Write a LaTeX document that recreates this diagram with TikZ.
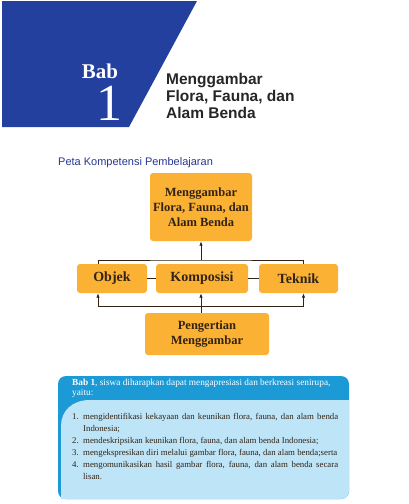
\documentclass[tikz,border=0pt]{standalone}
\usepackage{fontspec}
\setmainfont{Liberation Serif}
\newfontfamily\judulfont{Liberation Sans}
\usetikzlibrary{arrows.meta,positioning,calc}

\definecolor{babblue}{RGB}{35,64,158}
\definecolor{petablue}{RGB}{40,55,145}
\definecolor{kotak}{RGB}{251,178,52}
\definecolor{panelcyan}{RGB}{28,154,214}
\definecolor{panellight}{RGB}{190,228,247}
\definecolor{teks}{RGB}{50,35,20}

\newcommand{\nomorbutir}[1]{\leavevmode\llap{\hbox to 11pt{#1\hfil}}}

\begin{document}
\begin{tikzpicture}[x=1pt, y=-1pt, >=Latex,
  every node/.style={inner sep=0pt}]

  % ===== Styles =====
  \tikzset{
    box/.style={fill=kotak, rounded corners=3pt, align=center, text=teks,
      font=\fontsize{12.5}{15}\selectfont\bfseries},
    midbox/.style={box, minimum height=29pt, font=\fontsize{14}{16}\selectfont\bfseries},
    conn/.style={draw=teks, line width=0.8pt},
    arrow/.style={conn, -{Latex[length=4.5pt,width=3.5pt]}},
    paneltext/.style={text=teks, font=\fontsize{8.8}{12}\selectfont}
  }

  \useasboundingbox[fill=white] (0,0) rectangle (409,504);

  % ===== Chapter header =====
  \fill[babblue] (2,1) -- (197,1) -- (129,127) -- (2,127) -- cycle;
  \node[anchor=base, text=white, font=\fontsize{21}{21}\selectfont\bfseries] (bab) at (100,78) {Bab};
  \node[anchor=base, text=white, text height=35pt, font=\fontsize{52}{52}\selectfont] (nomor) at (109,120) {1};
  % base of a multi-line node = last line
  \node[anchor=base west, align=left, text=black!85,
    font=\judulfont\fontsize{15.5}{17}\selectfont\bfseries] (judulbab) at (166,118)
    {Menggambar\\Flora, Fauna, dan\\Alam Benda};

  \node[anchor=base west, text=petablue, font=\judulfont\fontsize{11}{13}\selectfont] (peta) at (58,165)
    {Peta Kompetensi Pembelajaran};

  % ===== Concept map =====
  \node[box, minimum width=102pt, minimum height=68pt] (judul) at (201,207)
    {Menggambar\\Flora, Fauna, dan\\Alam Benda};
  \node[midbox, minimum width=70pt] (objek) at (112,278.5) {Objek};
  \node[midbox, minimum width=92pt] (komposisi) at (202,278.5) {Komposisi};
  \node[midbox, minimum width=79pt] (teknik) at (298.5,278.5) {Teknik};
  \node[box, minimum width=124pt, minimum height=42pt] (pengertian) at (207,334)
    {Pengertian\\Menggambar};

  \coordinate (topbus) at (201,260);
  \coordinate (botbus) at (201,306);

  \draw[conn] ([xshift=-14pt]objek.north) |- (topbus) -| ([xshift=5pt]teknik.north);
  \draw[arrow] (topbus) -- (judul.south -| topbus);
  \draw[conn] (objek) -- (komposisi);
  \draw[conn] (komposisi) -- (teknik);
  \draw[arrow] (pengertian.north -| botbus) -- (komposisi.south -| botbus);
  \draw[arrow] (botbus) -| ([xshift=-14pt]objek.south);
  \draw[arrow] (botbus) -| ([xshift=5pt]teknik.south);

  % ===== Competence panel =====
  \fill[panelcyan, rounded corners=8pt] (58,376) rectangle (349,499);
  \fill[panellight] (61,499) -- (61,426) .. controls (61,411) and (72,400) .. (90,400)
    -- (349,400) -- (349,491) .. controls (349,495.4) and (345.4,499) .. (341,499) -- cycle;

  \node[anchor=base west, align=left, text=white, font=\fontsize{9.3}{10}\selectfont] (tujuan) at (72,395)
    {\textbf{Bab 1}, siswa diharapkan dapat mengapresiasi dan berkreasi senirupa,\\yaitu:};

  \node[paneltext, anchor=north west, text width=266pt, align=justify] (daftar) at (72,413.5)
    {\hyphenpenalty=10000\leftskip=11pt\parindent=0pt
     \nomorbutir{1.}mengidentifikasi kekayaan dan keunikan flora, fauna, dan alam benda\linebreak Indonesia;\par
     \nomorbutir{2.}mendeskripsikan keunikan flora, fauna, dan alam benda Indonesia;\par
     \nomorbutir{3.}mengekspresikan diri melalui gambar flora, fauna, dan alam benda;serta\par
     \nomorbutir{4.}mengomunikasikan hasil gambar flora, fauna, dan alam benda secara\linebreak lisan.\par};

\end{tikzpicture}
\end{document}
